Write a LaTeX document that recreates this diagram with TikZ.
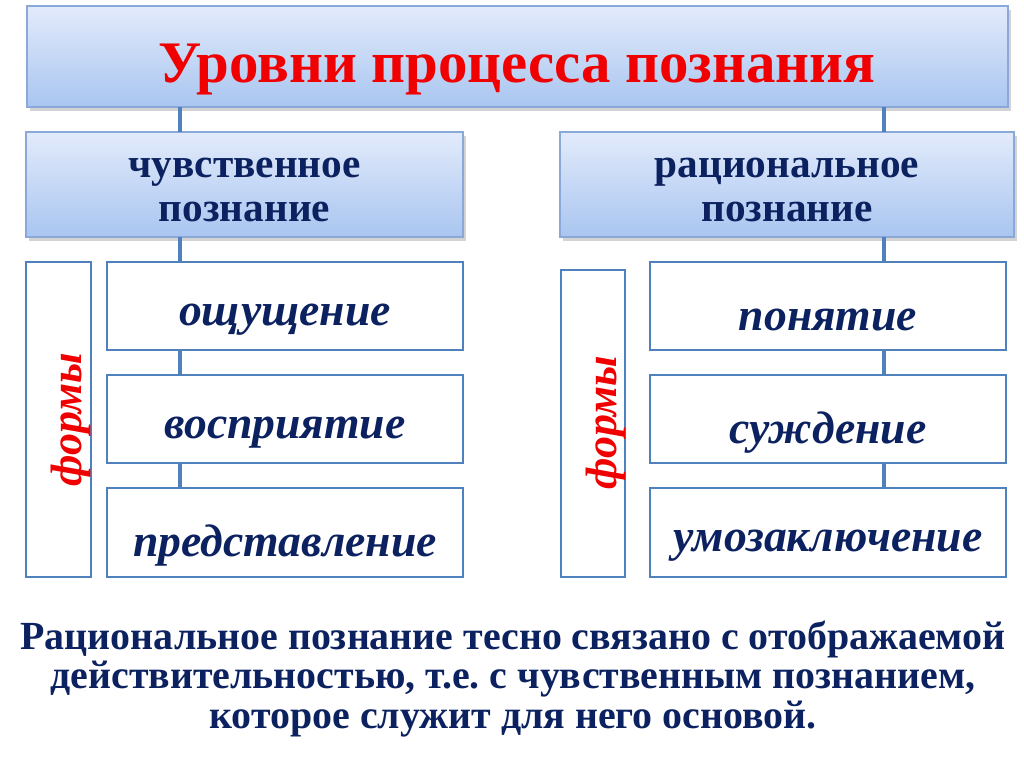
\documentclass[tikz,border=0pt]{standalone}
\usepackage{fontspec}
\setmainfont{Liberation Serif}
\usetikzlibrary{shadows}
\definecolor{navy}{HTML}{0C2260}
\definecolor{tred}{HTML}{F00000}
\definecolor{edge}{HTML}{4F81BD}
\definecolor{gedge}{HTML}{8AA8D8}
\definecolor{gtop}{HTML}{E2EBFB}
\definecolor{gbot}{HTML}{A9C5F0}
\tikzset{
  gbox/.style={draw=gedge, line width=0.9pt, top color=gtop, bottom color=gbot,
    drop shadow={shadow xshift=1.5pt, shadow yshift=-2pt, opacity=0.35}},
  fbox/.style={draw=edge, line width=1.6pt, fill=white},
  link/.style={draw=edge, line width=2.4pt},
  hdr/.style={font=\fontsize{23.5}{25}\selectfont\bfseries, text=navy, align=center},
  itm/.style={font=\fontsize{26}{30}\selectfont\bfseries\itshape, text=navy},
  frm/.style={font=\fontsize{25}{30}\selectfont\bfseries\itshape, text=tred, rotate=90},
}
\begin{document}
\frenchspacing
\begin{tikzpicture}[x=0.02cm,y=-0.02cm]
\useasboundingbox (0,0) rectangle (1024,767);
\coordinate (lt) at (180,107);
\coordinate (rt) at (884,107);
% title
\path[gbox] (27,6) rectangle (1008,107);
\node[font=\fontsize{33.5}{36}\selectfont\bfseries, text=tred] (title) at (517,69) {Уровни процесса познания};
% mid boxes
\path[gbox] (26,132) rectangle (463,237);
\node[hdr] (sens) at (244.5,190) {чувственное\\познание};
\path[gbox] (560,132) rectangle (1014,237);
\node[hdr] (rat) at (787,190) {рациональное\\познание};
% connectors
\coordinate (ls1) at (180,132); \coordinate (ls2) at (180,237); \coordinate (ls3) at (180,262);
\coordinate (rs1) at (884,132); \coordinate (rs2) at (884,237); \coordinate (rs3) at (884,262);
\draw[link] (lt) -- (ls1);
\draw[link] (rt) -- (rs1);
\draw[link] (ls2) -- (ls3);
\draw[link] (rs2) -- (rs3);
\draw[link] (180,350) -- (180,375);
\draw[link] (180,463) -- (180,488);
\draw[link] (884,350) -- (884,375);
\draw[link] (884,463) -- (884,488);
% left forms
\path[fbox] (26,262) rectangle (91,577);
\node[frm] (f1) at (71,420) {формы};
\path[fbox] (107,262) rectangle (463,350);
\node[itm] (a1) at (285,320) {ощущение};
\path[fbox] (107,375) rectangle (463,463);
\node[itm] (a2) at (285,433) {восприятие};
\path[fbox] (107,488) rectangle (463,577);
\node[itm] (a3) at (285,546) {представление};
% right forms
\path[fbox] (561,270) rectangle (625,577);
\node[frm] (f2) at (606,423) {формы};
\path[fbox] (650,262) rectangle (1006,350);
\node[itm] (b1) at (828,320) {понятие};
\path[fbox] (650,375) rectangle (1006,463);
\node[itm] (b2) at (828,433) {суждение};
\path[fbox] (650,488) rectangle (1006,577);
\node[itm] (b3) at (828,546) {умозаключение};
% bottom text
\node[font=\fontsize{22.7}{22.3}\selectfont\bfseries, text=navy, align=center] (note) at (513,679)
  {Рациональное познание тесно связано с отображаемой\\действительностью, т.е. с чувственным познанием,\\которое служит для него основой.};
\end{tikzpicture}
\end{document}
